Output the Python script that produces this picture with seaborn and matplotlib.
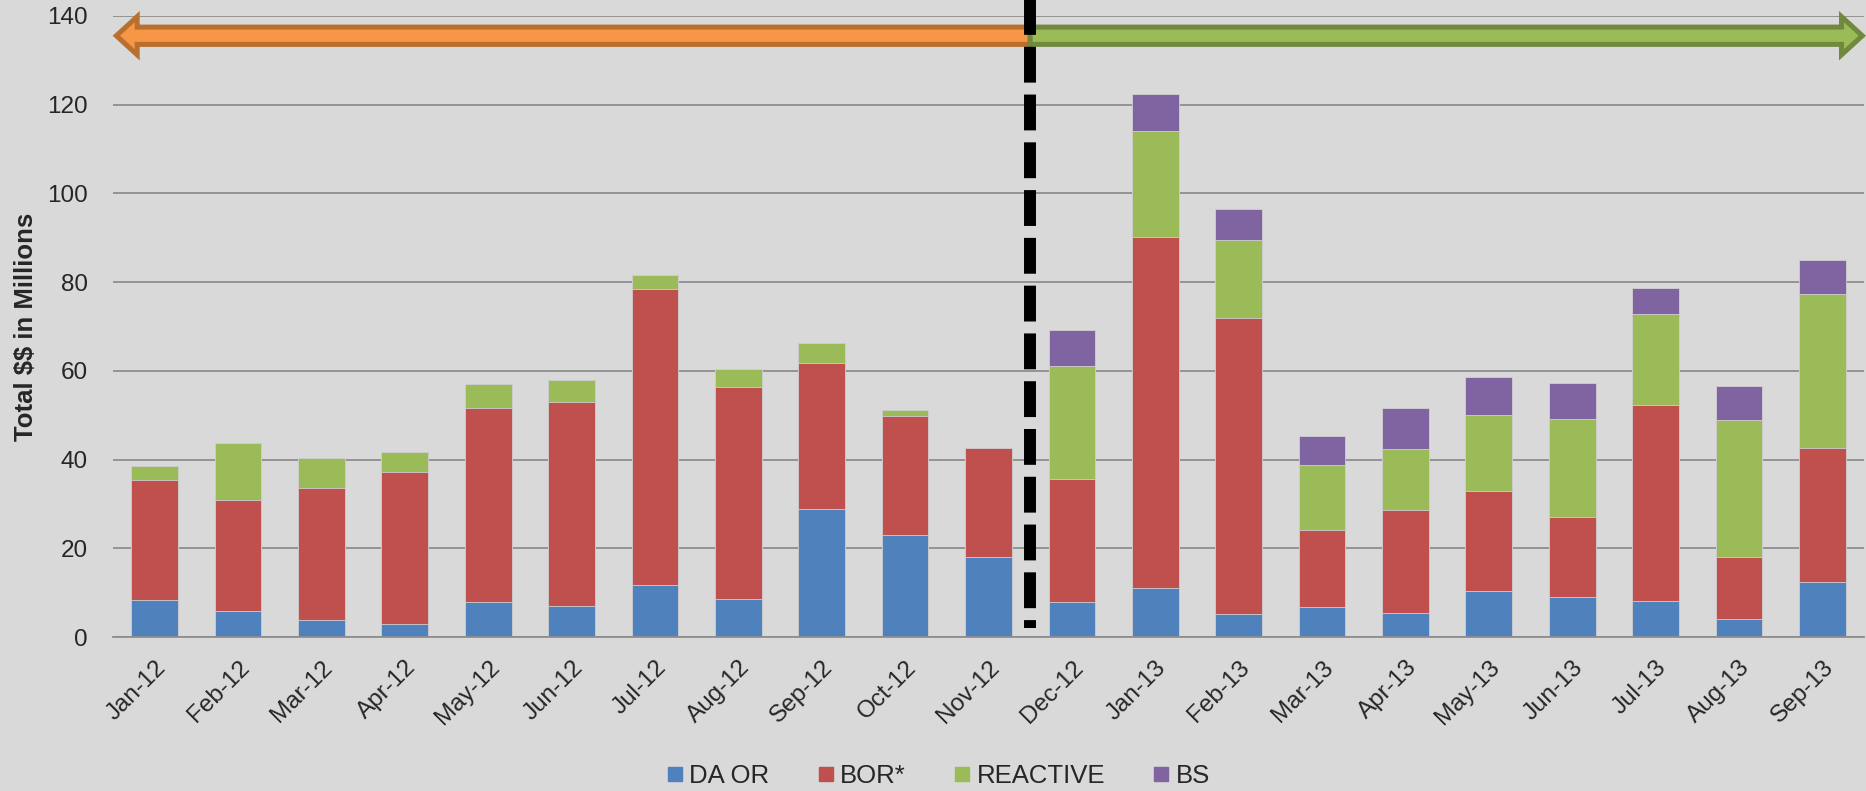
import pandas as pd
import numpy as np
import seaborn as sns
import matplotlib.pyplot as plt
from matplotlib.patches import FancyArrow
from matplotlib.lines import Line2D

months = ["Jan-12", "Feb-12", "Mar-12", "Apr-12", "May-12", "Jun-12", "Jul-12",
          "Aug-12", "Sep-12", "Oct-12", "Nov-12", "Dec-12", "Jan-13", "Feb-13",
          "Mar-13", "Apr-13", "May-13", "Jun-13", "Jul-13", "Aug-13", "Sep-13"]

da_or = [8.3, 5.9, 3.8, 3.0, 7.9, 6.9, 11.7, 8.6, 28.8, 23.1, 18.0,
         7.8, 11.1, 5.1, 6.8, 5.5, 10.4, 9.1, 8.2, 4.1, 12.4]
bor = [27.2, 24.9, 29.8, 34.1, 43.8, 46.0, 66.8, 47.8, 32.9, 26.8, 24.5,
       27.8, 79.1, 66.8, 17.4, 23.2, 22.6, 18.0, 44.1, 14.0, 30.1]
reactive = [3.0, 13.0, 6.8, 4.6, 5.4, 5.1, 3.1, 4.1, 4.5, 1.2, 0.1,
            25.4, 23.8, 17.7, 14.6, 13.6, 17.1, 22.1, 20.5, 30.8, 34.9]
bs = [0, 0, 0, 0, 0, 0, 0, 0, 0, 0, 0,
      8.3, 8.4, 6.9, 6.6, 9.3, 8.6, 8.0, 5.8, 7.6, 7.5]

series = ["DA OR", "BOR*", "REACTIVE", "BS"]
colors = ["#4F81BD", "#C0504D", "#9BBB59", "#8064A2"]

data = pd.DataFrame({"month": months, "DA OR": da_or, "BOR*": bor,
                     "REACTIVE": reactive, "BS": bs})
# cumulative tops for stacking
cum = data[series].cumsum(axis=1)

#------------------------------------------------
# style
#------------------------------------------------
sns.set_theme(style="whitegrid", rc={
    "figure.facecolor": "#D9D9D9",
    "axes.facecolor": "#D9D9D9",
    "grid.color": "#8E8E8E",
    "grid.linewidth": 1.3,
    "axes.edgecolor": "#8E8E8E",
})
plt.rcParams["font.family"] = ["Liberation Sans", "DejaVu Sans"]

fig = plt.figure(figsize=(18.66, 7.91), dpi=100)
ax = fig.add_axes([113 / 1866, 154 / 791, 1751 / 1866, 621 / 791])

# draw the tallest layer first, lower layers on top
for name, col in reversed(list(zip(series, colors))):
    sns.barplot(x=data["month"], y=cum[name], color=col, saturation=1,
                width=0.56, errorbar=None, edgecolor="#CFCFCF",
                linewidth=0.6, ax=ax)

ax.set_xlim(-0.5, len(months) - 0.5)
ax.set_ylim(0, 140)
ax.set_yticks(np.arange(0, 141, 20))
ax.grid(axis="x", visible=False)
ax.set_axisbelow(True)
for s in ["top", "right", "left"]:
    ax.spines[s].set_visible(False)
ax.spines["bottom"].set_linewidth(1.3)

ax.tick_params(axis="y", length=0, pad=18, labelsize=17.5)
ax.tick_params(axis="x", length=0, pad=14, labelsize=17.5)
ax.set_xticks(range(len(months)))
ax.set_xticklabels(months, rotation=45, ha="right", rotation_mode="anchor")

ax.set_xlabel("")
ax.set_ylabel(r"Total \$\$ in Millions", fontsize=18.5, fontweight="bold")
ax.yaxis.set_label_coords(-0.043, 0.5)

# period arrows
y_arr = 135.55
orange = FancyArrow(10.5, y_arr, -10.96, 0, width=3.9, head_width=8.6,
                    head_length=0.25, length_includes_head=True,
                    facecolor="#F79646", edgecolor="#B96F2E", linewidth=3.6,
                    clip_on=False, zorder=5)
green = FancyArrow(10.5, y_arr, 9.98, 0, width=3.9, head_width=8.6,
                   head_length=0.25, length_includes_head=True,
                   facecolor="#9BBB59", edgecolor="#71893F", linewidth=3.6,
                   clip_on=False, zorder=5)
ax.add_patch(orange)
ax.add_patch(green)

# dashed separator between Nov-12 and Dec-12
ax.plot([10.5, 10.5], [146.3, 2.0], color="black", linewidth=8.6,
        dashes=(3, 1), solid_capstyle="butt", dash_capstyle="butt",
        clip_on=False, zorder=6)

handles = [Line2D([], [], marker="s", linestyle="none", markersize=9.5,
                  markerfacecolor=c, markeredgecolor=c) for c in colors]
fig.legend(handles, series, loc="center", bbox_to_anchor=(0.503, 1 - 776 / 791),
           ncol=4, frameon=False, fontsize=18.5, handlelength=0.6,
           handletextpad=0.25, columnspacing=1.9)

plt.savefig("out.png", dpi=100, facecolor=fig.get_facecolor())
